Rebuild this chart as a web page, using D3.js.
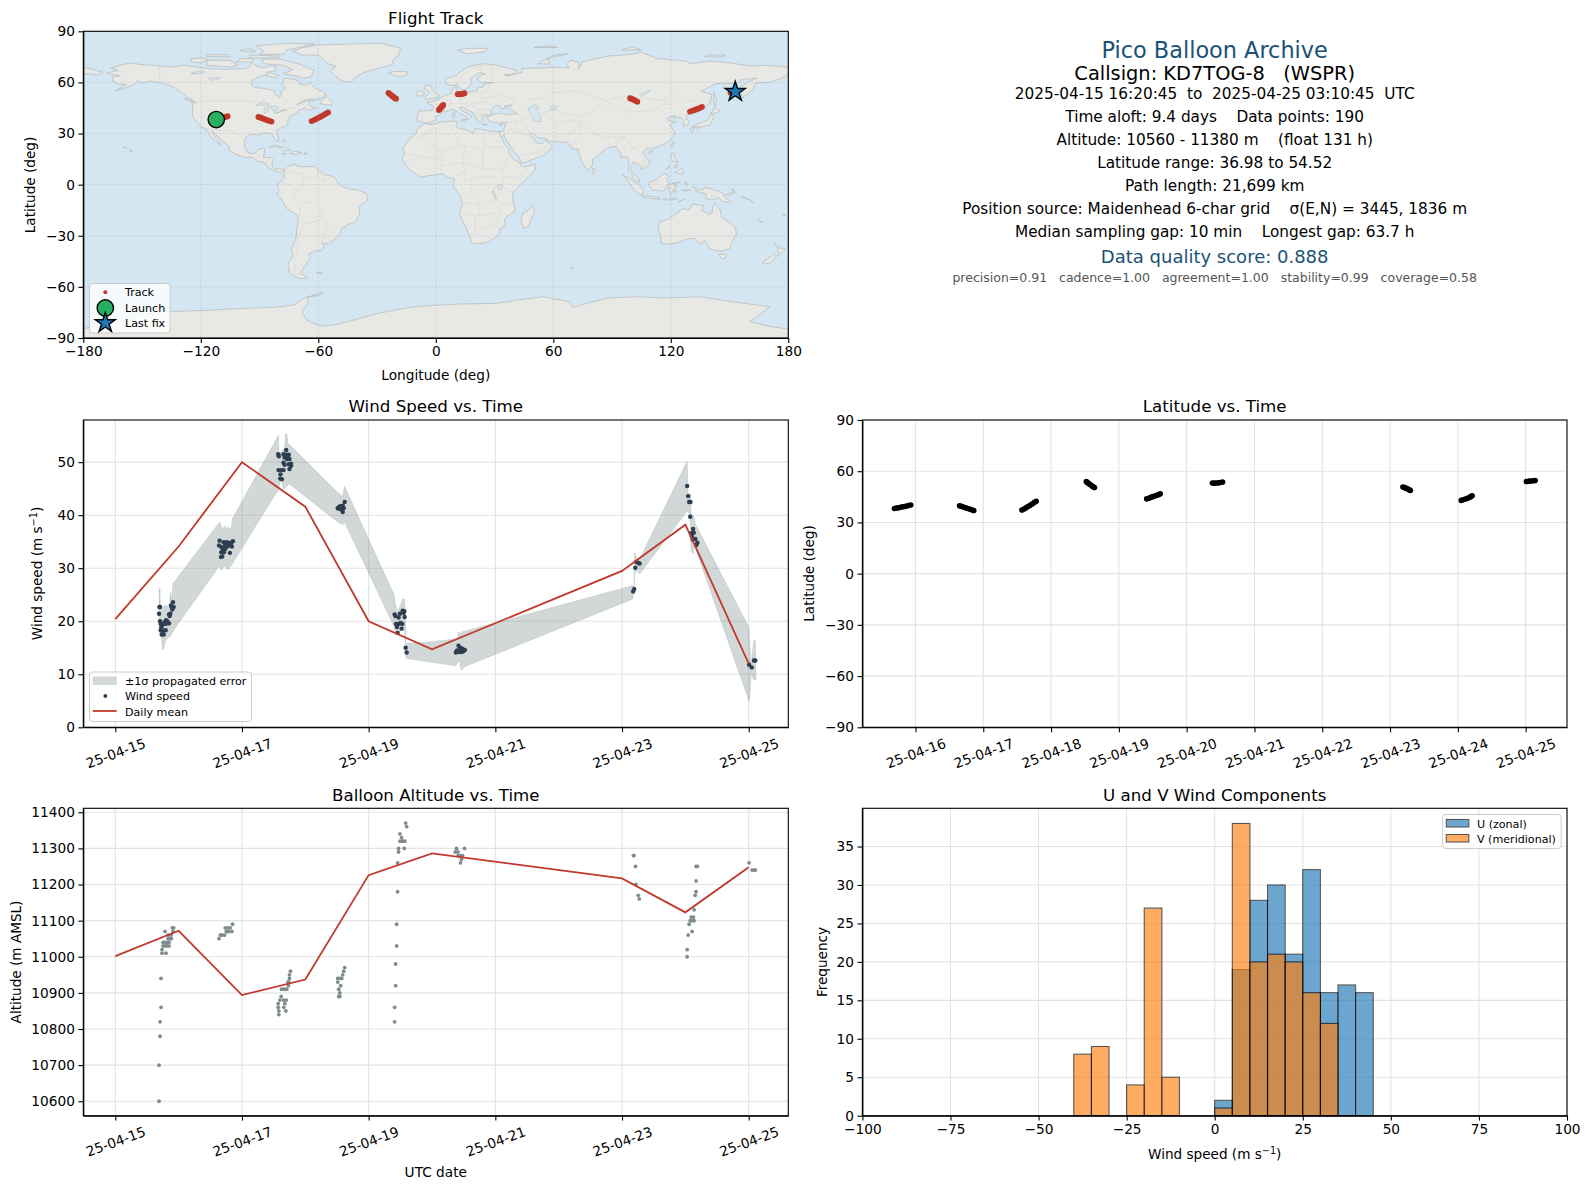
<!DOCTYPE html>
<html>
<head>
<meta charset="utf-8">
<title>Pico Balloon Archive</title>
<script src="https://cdnjs.cloudflare.com/ajax/libs/d3/7.8.5/d3.min.js"></script>
<style>
  body { margin: 0; background: #fff; }
  svg text { font-family: "DejaVu Sans", sans-serif; fill: #000; white-space: pre; }
  .tick line, .domain { stroke: #000; stroke-width: 1.1; }
  .tick text { font-size: 13.7px; }
  .grid line { stroke: #e3e3e3; stroke-width: 1.1; }
  .mapgrid line { stroke: #a9b4ba; stroke-width: 0.7; stroke-dasharray: 2 2; opacity: 0.6; }
</style>
</head>
<body>
<svg id="fig" width="1589" height="1189"></svg>
<script>
'use strict';

// flight track: days since 25-04-15 00:00, latitude, longitude
var trackDay = [0.69,0.72,0.75,0.78,0.81,0.84,0.87,0.90,0.93,
  1.65,1.68,1.71,1.74,1.77,1.80,1.83,1.86,
  2.57,2.60,2.63,2.66,2.69,2.72,2.75,2.78,
  3.52,3.54,3.56,3.58,3.60,3.62,3.64,
  4.41,4.44,4.47,4.50,4.53,4.56,4.59,4.61,
  5.38,5.41,5.44,5.47,5.50,5.53,
  8.19,8.21,8.23,8.25,8.28,8.30,
  9.05,9.08,9.11,9.14,9.17,9.19,9.21,
  10.01,10.05,10.08,10.11,10.14];
var trackLat = [38.2,38.4,38.6,38.9,39.1,39.3,39.6,39.9,40.2,
  39.7,39.4,39.0,38.6,38.2,37.8,37.4,37.0,
  37.3,37.9,38.6,39.3,40.0,40.8,41.6,42.4,
  53.9,53.3,52.7,52.1,51.5,50.9,50.4,
  43.8,44.2,44.7,45.1,45.5,45.9,46.3,46.8,
  53.1,53.0,53.1,53.2,53.4,53.7,
  50.7,50.4,50.1,49.8,49.2,48.7,
  42.9,43.3,43.7,44.1,44.6,45.1,45.6,
  54.0,54.2,54.3,54.4,54.52];
var trackLon = [-112.1,-111.4,-110.7,-110.0,-109.2,-108.5,-107.8,-107.0,-106.3,
  -90.6,-89.6,-88.7,-87.8,-86.9,-85.9,-84.9,-83.9,
  -63.4,-62.2,-61.0,-59.8,-58.6,-57.4,-56.2,-55.0,
  -24.2,-23.6,-22.9,-22.3,-21.6,-21.0,-20.3,
  1.6,1.9,2.2,2.5,2.8,3.1,3.5,3.8,
  11.2,11.9,12.5,13.2,13.9,14.6,
  99.2,99.9,100.6,101.2,102.0,102.9,
  129.8,130.8,131.8,132.8,133.9,134.9,135.9,
  150.5,151.0,151.6,152.2,152.9];

// wind speed samples [day, m/s]
var windPoints = [[0.696,22.7],[0.707,22.7],[0.691,21.4],[0.707,20.0],[0.717,19.5],[0.738,19.2],[0.728,18.8],[0.754,19.5],[0.780,19.8],[0.801,20.2],[0.822,20.0],[0.796,19.5],[0.848,19.6],[0.717,18.3],[0.754,18.2],[0.733,17.5],[0.764,17.5],[0.796,18.3],[0.848,21.3],[0.869,21.4],[0.859,21.0],[0.890,22.7],[0.922,22.7],[0.880,23.0],[0.911,23.6],[0.901,22.2],
  [1.647,35.2],[1.637,34.3],[1.673,34.0],[1.710,34.9],[1.752,34.9],[1.789,34.8],[1.831,34.8],[1.857,35.1],[1.841,34.1],[1.805,34.3],[1.768,34.1],[1.736,33.6],[1.700,33.5],[1.673,33.0],[1.715,33.0],[1.689,32.2],[1.668,32.1],[1.810,32.9],[1.752,34.4],[1.815,34.6],[1.730,34.2],
  [2.572,51.5],[2.582,51.1],[2.698,52.3],[2.656,51.5],[2.698,51.4],[2.739,51.4],[2.672,50.9],[2.708,50.6],[2.750,50.6],[2.656,49.9],[2.739,49.6],[2.776,49.3],[2.750,48.7],[2.672,49.5],[2.577,48.5],[2.619,48.5],[2.656,48.5],[2.608,47.7],[2.603,46.9],[2.630,46.8],[2.776,49.7],[2.680,51.0],[2.720,51.0],
  [3.622,42.5],[3.591,41.8],[3.564,41.5],[3.512,41.3],[3.538,41.2],[3.575,41.0],[3.591,40.6],[3.549,41.7],[3.606,41.3],[3.580,41.5],[3.530,41.5],
  [4.410,21.3],[4.421,21.0],[4.472,20.7],[4.494,21.4],[4.537,22.0],[4.553,21.6],[4.569,20.8],[4.431,19.5],[4.472,19.5],[4.504,19.7],[4.531,19.5],[4.447,18.9],[4.521,18.6],[4.457,17.8],[4.584,15.0],[4.600,14.1],[4.563,21.9],
  [5.377,14.1],[5.403,14.5],[5.419,15.4],[5.445,15.0],[5.482,14.8],[5.519,14.6],[5.471,14.2],[5.430,14.2],[5.498,14.4],[5.390,14.4],[5.460,14.6],
  [8.176,25.6],[8.193,26.1],[8.209,30.1],[8.224,31.2],[8.256,31.0],[8.277,30.9],
  [9.028,45.5],[9.044,43.6],[9.060,42.5],[9.081,42.5],[9.076,39.7],[9.122,37.4],[9.091,36.6],[9.133,36.7],[9.102,36.0],[9.159,35.5],[9.117,35.4],[9.190,34.8],[9.174,34.4],
  [10.006,11.8],[10.048,11.3],[10.084,12.6],[10.105,12.6]];

// +-1 sigma band edges [day, m/s]
var bandUpper = [[0.691,26.1],[0.707,26.1],[0.712,22.0],[0.754,22.7],[0.796,23.0],[0.848,22.7],[0.859,23.9],[0.869,25.5],[0.890,24.2],[0.911,27.1],[1.647,38.7],[1.668,38.3],[1.689,37.1],[1.710,37.7],[1.731,38.0],[1.752,37.4],[1.778,37.7],[1.805,37.6],[1.831,37.4],[1.847,39.3],[2.577,55.1],[2.582,51.8],[2.619,51.8],[2.672,52.7],[2.688,55.3],[2.708,55.3],[2.729,53.4],[2.771,53.1],[3.512,44.3],[3.591,43.5],[3.617,45.5],[4.405,24.9],[4.421,23.3],[4.457,21.7],[4.510,23.3],[4.537,24.2],[4.563,24.2],[4.579,22.0],[4.589,15.8],[4.957,16.1],[5.403,16.7],[5.419,18.0],[5.456,17.7],[5.482,18.0],[8.161,26.7],[8.188,26.7],[8.198,33.0],[8.224,32.1],[8.266,31.4],[9.028,50.2],[9.044,44.0],[9.081,44.0],[9.091,40.2],[9.133,39.9],[9.159,38.3],[10.0,18.9],[10.016,16.4],[10.037,11.4],[10.079,16.4],[10.105,16.4],[10.116,8.9]];
var bandLower = [[0.691,18.3],[0.728,17.0],[0.743,14.7],[0.764,14.7],[0.796,16.4],[0.833,17.0],[0.859,17.0],[0.938,18.6],[1.647,30.5],[1.673,29.6],[1.726,30.5],[1.778,29.7],[1.847,30.8],[2.577,44.9],[2.619,46.8],[2.655,44.9],[2.750,45.9],[3.512,38.7],[3.591,38.2],[3.617,38.7],[4.405,18.9],[4.431,17.4],[4.563,18.9],[4.589,13.0],[4.957,12.3],[5.377,11.6],[5.430,12.7],[5.456,10.9],[5.482,10.9],[5.508,11.4],[8.171,24.2],[8.203,28.9],[8.240,29.6],[8.277,28.9],[9.028,40.8],[9.070,40.2],[9.091,33.3],[9.122,32.7],[9.144,34.3],[10.0,5.1],[10.016,5.1],[10.037,10.1],[10.079,8.9],[10.116,8.9]];

// daily means
var meanDays = [0,1,2,3,4,5,8,9,10];
var meanWind = [20.4,34.1,50.0,41.6,20.0,14.7,29.5,38.2,12.0];
var meanAlt = [11002,11072,10894,10937,11226,11286,11217,11123,11248];

// altitude samples [day, m]
var altPoints = [[0.691,10600],[0.691,10700],[0.707,10780],[0.707,10820],[0.722,10860],[0.722,10940],[0.738,11010],[0.801,11010],[0.738,11020],[0.754,11030],[0.780,11030],[0.817,11030],[0.848,11030],[0.754,11040],[0.780,11040],[0.817,11040],[0.848,11040],[0.833,11050],[0.859,11050],[0.885,11050],[0.785,11070],[0.833,11060],[0.880,11060],[0.911,11070],[0.922,11080],[0.901,11080],
  [1.637,11050],[1.658,11060],[1.689,11060],[1.726,11060],[1.752,11070],[1.789,11070],[1.841,11070],[1.736,11080],[1.778,11080],[1.815,11080],[1.852,11090],[1.768,11070],[1.673,11060],
  [2.766,10960],[2.750,10950],[2.750,10940],[2.724,10930],[2.735,10920],[2.708,10910],[2.666,10910],[2.624,10910],[2.619,10890],[2.698,10880],[2.656,10880],[2.598,10880],[2.572,10870],[2.677,10870],[2.572,10860],[2.661,10860],[2.582,10850],[2.693,10850],[2.582,10840],[2.740,10930],
  [3.622,10970],[3.606,10960],[3.591,10950],[3.575,10940],[3.512,10940],[3.549,10940],[3.512,10930],[3.559,10920],[3.528,10910],[3.544,10900],[3.528,10890],[3.544,10890],
  [4.410,10820],[4.410,10860],[4.426,10920],[4.426,10980],[4.442,11030],[4.442,11090],[4.457,11180],[4.457,11260],[4.472,11290],[4.472,11300],[4.563,11300],[4.494,11320],[4.525,11320],[4.571,11320],[4.520,11330],[4.494,11340],[4.584,11370],[4.600,11360],[4.540,11320],
  [5.388,11300],[5.367,11290],[5.409,11290],[5.414,11280],[5.445,11280],[5.482,11280],[5.514,11300],[5.466,11270],[5.450,11260],
  [8.188,11280],[8.214,11250],[8.219,11200],[8.256,11170],[8.272,11160],[8.180,11280],
  [9.028,11020],[9.028,11000],[9.044,11060],[9.107,11070],[9.060,11090],[9.076,11100],[9.107,11100],[9.138,11100],[9.091,11110],[9.128,11110],[9.138,11130],[9.154,11170],[9.169,11180],[9.169,11210],[9.169,11250],[9.190,11250],
  [10.006,11260],[10.053,11240],[10.084,11240],[10.105,11240]];

// histogram bins
var binStarts = [-40,-35,-30,-25,-20,-15,-10,-5,0,5,10,15,20,25,30,35,40];
var uCounts = [0,0,0,0,0,0,0,0,2,19,28,30,21,32,16,17,16];
var vCounts = [8,9,0,4,27,5,0,0,1,38,20,21,20,16,12,0,0];

// tick labels
var wideTickDays = [0,2,4,6,8,10];
var wideTickLabels = ['25-04-15','25-04-17','25-04-19','25-04-21','25-04-23','25-04-25'];
var latTickDays = [1,2,3,4,5,6,7,8,9,10];
var latTickLabels = ['25-04-16','25-04-17','25-04-18','25-04-19','25-04-20','25-04-21','25-04-22','25-04-23','25-04-24','25-04-25'];

// summary text
var infoLines = [
  '2025-04-15 16:20:45  to  2025-04-25 03:10:45  UTC',
  'Time aloft: 9.4 days    Data points: 190',
  'Altitude: 10560 - 11380 m    (float 131 h)',
  'Latitude range: 36.98 to 54.52',
  'Path length: 21,699 km',
  'Position source: Maidenhead 6-char grid    \u03c3(E,N) = 3445, 1836 m',
  'Median sampling gap: 10 min    Longest gap: 63.7 h'
];

// land outlines, traced by eye as [lon, lat]
var landPolygons = [
  // north america
  [[-168,65.6],[-164,66.5],[-162,67],[-166,68.5],[-163,69.5],[-156.5,71.3],[-150,70.5],[-141,69.7],[-135,69],[-128,70],[-125,69.5],[-115,68],[-110,68],[-108,67.5],[-102,68],[-97,68],[-95,69.5],[-94,71.8],[-92,70],[-88,68.5],[-85,69.5],[-82,69.5],[-81.5,67],[-86,66],[-87,64.5],[-90,63.5],[-94,61],[-94.5,58.8],[-92.5,57],[-88,56.5],[-82.5,55.2],[-82,52.9],[-80,51.2],[-79,52],[-79,54.5],[-76.8,56.5],[-78.3,58.7],[-77.5,62.4],[-73,62],[-70,61],[-69.5,59],[-66,58.5],[-64.5,60.3],[-61.5,56.5],[-58,54.8],[-55.7,52.5],[-60,50.2],[-65,50.2],[-68,49],[-71,46.9],[-66,49.2],[-64.5,48.8],[-65,47],[-64,46],[-61,45.3],[-65,43.6],[-66.5,44.5],[-67,45],[-70,43.7],[-70.7,42],[-74,40.6],[-75.5,38],[-75.5,35.2],[-78,33.9],[-81,32],[-81.3,30],[-80,26.8],[-80.3,25.3],[-81.8,26],[-82.8,28],[-84,30],[-86,30.4],[-89.5,30.2],[-89.3,29.1],[-91,29.2],[-94,29.6],[-97,28],[-97.5,25],[-97.8,22.5],[-95.9,18.8],[-94.5,18.2],[-92,18.6],[-90.5,20.8],[-87.5,21.5],[-87.5,19.5],[-88,16],[-84,15.8],[-83.3,14.9],[-83.7,11],[-82,9],[-79.7,9.5],[-77.3,8.6],[-78.3,7.5],[-80,7.3],[-83,8.2],[-85.7,10],[-87.5,13],[-91.5,14],[-94,16.1],[-97,15.9],[-101.5,17.5],[-105.5,20],[-105.5,22.5],[-109,25.8],[-112.5,29.5],[-114.7,31.7],[-112.5,27.5],[-109.5,23.2],[-112,25],[-115,28.2],[-117.2,32.5],[-120.5,34.5],[-122.5,37.7],[-124.3,40.3],[-124,46],[-124.7,48.4],[-122.5,48],[-125,50.2],[-128,52],[-130.2,54.5],[-133.5,57],[-137,58.6],[-140,59.7],[-146,60.8],[-150,59.7],[-152,61],[-154,59],[-158,57],[-163.5,55],[-158,58.8],[-162,59],[-165,60.6],[-165,63.2],[-161,64],[-166.5,64.7]],
  // greenland
  [[-73,78.2],[-68,76],[-60,76],[-55,71],[-51,69.5],[-54,67],[-51,63.5],[-48,61],[-43.5,60],[-41,63],[-37,65.7],[-30,68],[-22,70.5],[-22,73],[-19,76],[-18,80],[-28,83],[-45,82.5],[-60,82],[-68,80.5]],
  // canadian arctic
  [[-80,73.7],[-72,71.5],[-68,70],[-62,67],[-64,63],[-68,62.5],[-72,64],[-78,65],[-73,67.5],[-78,70],[-88,71],[-89,73.5]],
  [[-117,70],[-105,69],[-101,70],[-105,73],[-117,73]],
  [[-90,76.5],[-78,76.5],[-76,79],[-62,82.5],[-75,83],[-92,81.5],[-88,78.5]],
  [[-125,72],[-120,71.5],[-116,73.5],[-120,74.3],[-125,74]],
  [[-95,74.5],[-80,74.5],[-80,75.5],[-95,76]],
  [[-117,75.2],[-105,75],[-106,76.3],[-117,76.2]],
  [[-102,72],[-94,72],[-93,74],[-100,73.9]],
  [[-98,78],[-92,78],[-94,79.5],[-100,79]],
  [[-87,64],[-82,62.8],[-80,64],[-85,65.8]],
  [[-59,47.7],[-56,46.8],[-53,46.8],[-53,48.7],[-55.8,51.5],[-57.5,50.5]],
  [[-128.3,50.5],[-125.5,50],[-123.4,48.4],[-125.5,48.8]],
  [[-64.5,49.9],[-62,49.2],[-63.5,49.2]],
  // caribbean, hawaii
  [[-85,22],[-82,23.1],[-77,21.8],[-74.2,20.2],[-77.7,19.9],[-78.5,21.2],[-82,22.3]],
  [[-74.4,18.5],[-72.8,19.9],[-68.4,18.6],[-71.5,17.8]],
  [[-78.3,18.4],[-76.3,18.2],[-77,17.8]],
  [[-67.2,18.5],[-65.7,18.4],[-66,18],[-67.2,18]],
  [[-78.3,25.2],[-77.5,26.8],[-77.2,25.5]],
  [[-156.2,20.8],[-155,19.8],[-155.7,19]],
  [[-159.7,22.2],[-157.8,21.6],[-158.2,21.3]],
  // south america
  [[-77.3,8.6],[-75.5,10.7],[-72,12],[-71,11],[-68,10.5],[-62,10.7],[-60,8.5],[-57,6],[-52,4.7],[-50,1],[-48,-1],[-44,-2.7],[-40,-3],[-35.2,-5.5],[-35,-9],[-39,-13],[-39,-17.5],[-41,-22],[-44.5,-23.2],[-48.5,-26],[-48.7,-28.5],[-53,-33.5],[-55,-35],[-58.2,-34],[-57,-36.5],[-58,-38.4],[-62,-39],[-65,-41],[-63.7,-42.7],[-65.5,-45],[-66,-47],[-69,-51],[-68.3,-52.5],[-65.3,-54.8],[-69,-55.2],[-72,-54],[-74.8,-51.5],[-75.5,-46.7],[-73,-42],[-73.6,-37.5],[-71.5,-32],[-71,-27],[-70.2,-20],[-71.5,-17.3],[-76,-14],[-79,-8],[-81.2,-5.5],[-80,-3],[-81,-1],[-80,1],[-78.8,2],[-77.5,4],[-77.5,7]],
  [[-61,-51.8],[-58,-51.4],[-58.5,-52.3]],
  // africa
  [[-5.9,35.8],[-2,35.2],[3,36.9],[10,37.3],[11,36.8],[10.2,34.2],[11.2,33.2],[15.2,32.3],[19,30.3],[20,32.8],[23,32.6],[29,31],[32.3,31.2],[32.6,29.9],[35,24],[37.2,21],[37.5,18.5],[39.5,15.2],[43.2,12.3],[43.3,11.5],[45,10.5],[51.2,11.9],[50.8,9],[47,4],[42,-1.5],[39.3,-5],[39.5,-10],[40.7,-15],[35,-20],[35.5,-24],[32.8,-26],[32.5,-29],[28,-33],[25.5,-34],[20,-34.8],[18.4,-34],[17,-29.5],[14.5,-23],[11.8,-17],[13.8,-11],[12.2,-6],[9,-1],[9.6,3.5],[6,4.3],[4,6.3],[-4,5.2],[-7.5,4.4],[-11.5,7],[-15,11],[-17.3,14.7],[-16,19],[-17,21],[-13,27.7],[-10,30],[-9.3,33]],
  [[49.3,-12],[50.5,-15.5],[47.2,-24.8],[45,-25.5],[43.4,-22],[44.3,-17],[47,-15.3]],
  // eurasia
  [[-9,37],[-9.5,38.7],[-8.8,43.3],[-2,43.4],[-1.2,46],[-4.7,48.4],[-1.6,48.7],[1.5,50.2],[4,52],[8,53.8],[8.2,56],[10.5,57.6],[10.3,55],[12,54.2],[14,54],[19,54.5],[21,55.2],[21.5,57.3],[24,57.1],[24.4,59],[30,60],[23,60],[21.3,61],[21.5,63],[25,65],[22,65.7],[17.5,62],[18.5,60],[16.5,57],[14.3,55.5],[12.7,56],[11,59],[8,58],[5.5,59],[5,62],[10,64],[14,67.5],[18,69.8],[25,71],[31,70],[41,67.2],[40,65],[35,64.5],[37,63.8],[44,66],[44,68.2],[54,68.5],[60,69],[68,68.5],[67,71],[69,73],[72.8,72],[73,68],[75,72],[80,73.5],[88,75.5],[100,76.5],[105,77.7],[113,74],[128,72.5],[130,71],[140,72.5],[150,71.5],[160,69.7],[170,70],[180,69],[180,65],[177,62.5],[170,60],[163.5,59.8],[162,56],[156.7,51],[155.5,57],[160,60.5],[164,62.5],[156,61.6],[154,59.5],[143,59.3],[135.3,54.7],[141,53],[140,48],[135,43.5],[130.5,42.5],[127.5,39.8],[129.4,37],[129,35.2],[126.4,34.5],[126.6,37.5],[125,39.7],[121.3,39],[122,40.7],[118,39],[119,37.3],[122.5,37],[119.3,35],[122,31],[121.5,28.5],[118,24.5],[113.5,22.2],[110,21],[108,21.6],[105.8,19],[109,13.5],[109,11.5],[105,8.7],[105,10.4],[102.5,12.3],[100.9,13.4],[99.2,10],[100.5,7],[103.4,4],[104.2,1.4],[101.2,2.9],[100.2,6],[98.3,8],[98.6,13],[97.6,16.5],[94.5,16],[94.3,18.5],[91.8,22.4],[89,21.8],[87,21.3],[82.3,16.7],[80.2,15],[80,11.5],[77.5,8],[75,12.5],[72.8,19],[72.6,21.2],[70,20.8],[69,22.5],[67,24.8],[61.5,25.2],[57.3,25.6],[56.5,27],[52,27.7],[50,30],[48,30],[48.7,28.5],[50.2,26.5],[51.4,24.5],[54,24],[56.3,26],[58.7,23.5],[59.7,22.3],[55.5,17.5],[52,16],[45,12.8],[43.3,12.8],[42.7,15.5],[39,21],[35,28],[34.9,29.5],[33.3,28],[32.6,29.9],[32.3,31.2],[34.3,31.2],[35.9,36],[36,36.9],[32,36.1],[30.5,36.5],[27.3,37],[26.2,39.5],[29,41],[32,42],[36,41.3],[41.5,41.6],[38,44.3],[37.5,45.3],[39,47],[35,46],[36.5,45.2],[33.5,44.5],[33,46],[30.7,46.5],[28,43.5],[28.9,41.3],[26.3,40.7],[23.5,40.3],[24,38],[22.8,36.5],[21.3,37.5],[19.5,41],[19,42.2],[15,44.5],[13.7,45.6],[12.3,45.3],[12.5,44],[16,41.7],[18.4,40],[17,39],[15.7,38],[15.7,40],[12.5,41.5],[10.3,43.5],[8.8,44.4],[6,43.1],[3,43.2],[3.2,41.8],[0,39.8],[-0.4,38],[-2,36.8],[-5.3,36.1],[-6.3,36.6]],
  [[-180,69],[-175,67.5],[-170,66],[-173,64.3],[-177,65],[-180,65]],
  // european islands
  [[-5.5,50],[1.3,51.2],[1.6,52.8],[-0.3,53.8],[-2,56],[-2,57.6],[-5,58.6],[-6,56.5],[-3,54],[-5,52]],
  [[-10,52],[-6,52.2],[-6,54.5],[-8.5,55.2],[-10,54]],
  [[-24,65.5],[-21,64],[-18,63.4],[-14,64.5],[-15,66.3],[-22,66.4]],
  [[12.5,38],[15.5,38.2],[15,36.7]],
  [[8.3,41],[9.7,41],[9.5,39],[8.5,39]],
  [[8.7,42.5],[9.5,43],[9.3,41.5]],
  [[23.6,35.5],[26.2,35.2],[24.5,35]],
  [[32.4,35],[34.5,35.6],[33.8,34.8]],
  [[11,79],[16,76.7],[25,78],[27,80],[17,80]],
  [[52,71],[58,70.7],[57,74],[68,77],[60,76]],
  [[95,79],[105,79],[100,81]],
  [[137,75],[146,75],[148,76],[139,76]],
  [[50,80.5],[62,80.5],[58,81.5]],
  // east asia islands
  [[142,54],[143.5,49],[142.5,46],[142,49]],
  [[130.9,34],[135,33.6],[140,35],[141.9,39.5],[141.3,41.3],[140,40.5],[139,38],[136.8,37],[133,35.5]],
  [[140.2,41.5],[143,42],[145.3,43.4],[142,45.5],[141.5,43.2]],
  [[130,33.2],[131.8,33.5],[131,31],[130.2,31.2]],
  [[132.5,34],[134.5,34.2],[134,33.3],[132.7,33]],
  [[120.3,23],[121.5,25.2],[121.9,24.8],[120.9,22]],
  [[109,19.5],[110.8,20],[110,18.3],[108.8,18.6]],
  [[79.8,8],[80.5,9.7],[81.8,7.5],[80.5,6]],
  [[120.3,16],[120.8,18.5],[122.2,18.4],[122,16],[124,13],[121,13.7]],
  [[122,7],[125.5,9.7],[126.5,7.5],[125.5,5.8],[124,6.8]],
  [[122,11.5],[123.5,11.5],[123,10],[122,10]],
  [[117.5,9],[119.5,11.3],[119,10]],
  // indonesia, new guinea
  [[109,1.5],[111.5,2.5],[113.5,3.5],[116.8,7],[119,5],[117.7,3],[119,1],[116.5,-3.8],[114,-3.5],[110.3,-3],[109,-0.3]],
  [[95.3,5.6],[98,4.2],[103.5,0],[106,-3],[105.8,-5.8],[104.3,-5.8],[101,-2.8],[98.6,1.7]],
  [[105.2,-6.8],[108.5,-6.6],[114.5,-7.8],[114.3,-8.7],[108,-7.9]],
  [[119.8,0.7],[125,1.5],[121,0.4],[123.3,-0.9],[121.8,-1.8],[122.8,-4.7],[121.2,-3],[120.4,-5.5],[119.4,-5.3],[119,-2.7]],
  [[127.5,2],[128.5,1],[128,-0.8],[127.5,0.5]],
  [[126,-3.2],[130,-3],[128,-3.8]],
  [[131,-0.8],[135,-3.3],[138,-1.7],[144.5,-3.8],[147.8,-6],[147,-6.8],[150.8,-10.3],[147,-10],[144,-7.7],[141,-9],[138,-8.3],[138,-5.5],[133,-4],[132.8,-2.8]],
  [[148.5,-5.6],[152,-4.2],[152,-5.5],[149,-6.3]],
  [[150.8,-2.7],[153,-4.5],[152,-3.2]],
  [[156,-6.8],[158,-7.8],[159.5,-8.6],[157,-7.9]],
  [[159.8,-8.3],[162.2,-10.7],[161,-9.8]],
  [[119,-8.4],[123,-8.2],[122,-8.9],[119,-8.9]],
  [[116,-8.4],[117,-8.3],[118,-8.8],[116,-9]],
  [[123.8,-10.2],[127,-8.4],[125,-9.6]],
  // australasia
  [[114,-22],[113.5,-26],[115,-31],[115,-34.3],[118,-35],[123.5,-34],[129,-31.7],[131.5,-31.5],[135,-34.7],[137.8,-33],[138.5,-35],[140,-37.7],[143.5,-38.8],[146.4,-39],[150,-37.5],[151.2,-34],[153.5,-28.5],[153,-25],[149.5,-22],[146,-19],[145.3,-15],[142.6,-10.8],[141.5,-13],[141,-16.5],[139.5,-17.5],[135.7,-15],[136.7,-12.2],[131,-11.5],[129.5,-15],[126,-14],[122.3,-17.5],[119,-20]],
  [[144.7,-40.8],[148.3,-41],[148,-43],[146,-43.6],[145.3,-42.5]],
  [[172.7,-34.5],[175.5,-37],[178.4,-37.7],[177,-39.5],[175.3,-41.6],[174.8,-39],[174.7,-37.5]],
  [[172.7,-40.5],[174.3,-41.7],[172.8,-43.7],[170.7,-45.9],[168.4,-46.6],[166.5,-45.9],[169.5,-43.6],[171.5,-41.8]],
  [[164,-20],[167,-22.4],[166,-22]],
  [[177.3,-17.5],[178.6,-18],[177.4,-18.2]],
  [[68.8,-48.8],[70.5,-49],[69.5,-49.7]],
  // antarctica
  [[-180,-84.5],[-155,-79],[-150,-76],[-135.7,-74.5],[-118,-73.8],[-101,-72.8],[-82.6,-72],[-72,-70.5],[-68,-67],[-62,-64.8],[-57.5,-63.4],[-60,-65],[-65.9,-65.8],[-65,-69],[-68.5,-74.6],[-65.9,-79.5],[-59.1,-83],[-52.3,-82.4],[-42,-79.5],[-30,-75.6],[-13,-72],[-3,-71],[12.6,-70],[31,-69.7],[43,-67.5],[55,-65.8],[68.5,-68.8],[70,-72],[77,-69.7],[88,-66.5],[102,-65.8],[118,-66.5],[134.9,-65.8],[150,-68.5],[170.6,-71.6],[165,-76.5],[160.4,-80.4],[170,-83],[180,-84.9],[180,-90],[-180,-90]]
];

// inland water painted over the land
var lakePolygons = [
  [[47,45],[51,47],[53,45],[51,44.5],[53,41],[54,37],[50,37.3],[49.5,40.5],[47.5,43]],
  [[58.5,46],[61.5,46.5],[61,44],[58.5,44]],
  [[-92,46.7],[-88,48.5],[-85,47.5],[-85,46.5],[-88,46.5]],
  [[-87.8,42],[-86.3,42.5],[-85.2,45.5],[-87.5,45]],
  [[-84.5,45.8],[-81,46],[-80,44.6],[-82,43.2],[-83.5,44]],
  [[-83,41.7],[-79,42.8],[-80,42.6],[-82.7,42]],
  [[-79.5,43.3],[-76.3,43.4],[-76.5,44.1],[-79,43.8]],
  [[-125,65.5],[-119,67],[-118,65.5],[-123,65]],
  [[-116,62.5],[-110,62.7],[-114,61]],
  [[31.8,0],[34,-0.5],[33.5,-2.8],[32,-2.5]],
  [[29,-3.5],[30,-5],[31,-8.5],[30.5,-8],[29.5,-6]],
  [[103.8,53],[109,55.5],[109.5,55],[105,51.7]]
];

// country borders, traced by eye as [lon, lat]
var borderLines = [
  [[-124,49],[-95,49],[-89,48],[-84.5,46.5],[-82.5,42.5],[-79,43],[-75,45],[-71,45],[-69,47.3],[-67.5,47],[-67,45]],
  [[-141,69.7],[-141,60],[-135,59]],
  [[-117.2,32.5],[-108,31.5],[-106.5,31.8],[-101,29.7],[-97.2,26]],
  [[-92,14.5],[-91,17.5],[-89,18],[-88.2,18.3]],[[-89,14],[-88,16]],[[-87,13],[-84,15.5]],[[-85.7,11],[-83.7,11]],[[-83,8.5],[-82.5,9.5]],
  [[-77.3,8],[-72.5,7],[-72,12]],[[-72.5,7],[-67,6],[-67.5,2],[-70,-4]],[[-60,8.5],[-60.5,5],[-64,4],[-67.5,2]],[[-57,6],[-58,2],[-52,4.7]],
  [[-79,1.5],[-75,0],[-70,-4],[-73,-7],[-70,-11],[-69,-16],[-69.5,-17.5],[-70.2,-19]],[[-81,-4],[-78.5,-5],[-75,0]],
  [[-70,-11],[-65,-10],[-60,-13.5],[-58,-17],[-58,-20]],[[-69.5,-17.5],[-67.5,-23],[-62,-22],[-58,-20],[-54.5,-25.5]],[[-67.5,-23],[-70,-30],[-72,-45],[-72,-52],[-68.5,-53]],
  [[-54.5,-25.5],[-57.5,-30],[-53.5,-33.5]],[[-58,-34],[-57.7,-30]],
  [[-8.7,27.3],[-2,32],[-1.5,35]],[[-13,27.7],[-8.7,27.3],[-5,25],[3,19],[12,23.5],[9.5,30],[8,33],[8.5,37]],[[12,23.5],[15,23],[24,20],[25,31.5]],[[24,20],[25,22],[36.8,22]],
  [[-16,19],[-5,16],[3,15],[4,19]],[[-5,16],[-12,15],[-16.5,13.5]],[[3,15],[3,11],[2.7,6.3]],[[3,11],[14,13],[15,8],[9.5,4.5]],[[15,23],[14,13],[24,9],[24,20]],
  [[24,9],[34,9.5],[36.5,14.5],[38.5,18]],[[34,9.5],[35,5],[42,4],[47.5,8],[43,11.5]],[[35,5],[34,0],[34,-1],[39.5,-4.7]],[[34,-1],[30,-1],[29.5,-6],[30,-8.5],[34,-11.5],[40.5,-10.7]],
  [[15,8],[14.5,2],[18,3.5],[18.5,-3.5],[12.5,-6]],[[18,3.5],[27,5],[34,4]],[[18.5,-3.5],[20,-7],[22,-11],[13.7,-11]],[[22,-11],[24,-13],[30,-8.5]],[[22,-11],[22,-18],[11.8,-17.3]],[[22,-18],[25,-18],[33,-16],[30.5,-22.5],[32.8,-26]],[[20,-18],[20,-29],[16.5,-28.6]],[[20,-25],[25,-25.5],[30.5,-22.5]],
  [[-1.8,43.4],[3,42.5]],[[-9,42],[-6.5,42],[-7,37.2]],[[2.5,51],[6,49.5],[8,49],[7.5,47.6],[6.8,46],[7.5,43.8]],[[6.5,53.3],[6,51],[6,49.5]],[[8.7,54.9],[9.5,54.8]],[[14,54],[15,51],[12.3,50.3],[13,47.5],[9.5,47.5],[7.5,47.6]],[[13,47.5],[17,48],[22.5,48.2],[24,50.5],[23.5,54],[19,54.4]],[[13.7,45.6],[16.5,46.5],[19,46],[22.5,48.2]],[[22.5,48.2],[26.5,48.2],[29.5,45.3]],[[19,46],[22.8,44],[28.5,43.7]],[[22.8,44],[22.7,41.3],[26.3,41.7],[26.3,40.7]],[[19.4,42],[21,42],[22.7,41.3]],[[20,39.8],[26.3,41.3]],
  [[23.5,54],[27,55.5],[28,59.5]],[[24,50.5],[32,52],[34,52.3],[40,49.7],[38.2,47.2]],[[28,60],[29,63],[29,69]],[[12,61],[14,65],[20,69],[28,70]],[[20,69],[24,66]],
  [[36,36.5],[42,37],[44.5,37.5],[44.5,39.5],[41.5,41.6]],[[44.5,39.5],[48,39],[49,38.4]],[[44.5,37.5],[46,35],[48,30]],[[42,37],[41,34],[39,32],[36.8,32.3],[34.9,29.5]],[[39,32],[47,29],[48,29.5]],[[47,29],[51,24.8]],[[52,19],[55,20],[56.5,24.5]],[[43,17],[52,19],[53,16.5]],
  [[48,39],[48.5,42],[47,45]],[[53,42],[56,41.3],[61,36],[66,37.3],[74,37],[71,34],[70,30],[61,29.5],[61.5,25.2]],[[61,36],[61,30],[61.5,25.2]],[[53,42],[61,44],[66,41],[70,41],[74,40],[80,42],[80,45],[85,47],[87,49]],[[47,50],[55,51],[61,54],[70,55],[77,53.5],[87,49]],[[87,49],[98,42.5],[111,43.5],[116,47.5],[120,47],[116,49.8],[106,50.3],[98,52],[87,49.5]],[[116,49.8],[120,53.5],[127,50],[135,48.4],[131,44],[130.5,42.5]],
  [[74,37],[78,33],[79,31],[81,30],[88,28],[92,28],[97,28],[98.5,25],[101,21.5],[105,23],[108,21.6]],[[74,37],[74,32],[70.5,24],[69,23.5]],[[81,30],[88,26.5],[89,22]],[[92,22.7],[92,25],[97,28]],[[98.5,25],[94.5,20]],[[101,21.5],[100,20],[98,17],[99.5,11]],[[101,21.5],[105,18],[107,15],[106,11]],[[102.5,12.5],[107,14.5]],
  [[124.5,40],[130.5,42.5]],[[126.5,38],[128.5,38.5]],
  [[117,4.3],[115,2],[110,1.2]],[[141,-2.6],[141,-9]]
];

var mapBox = { left: 83.3, right: 788.3, top: 31.3, bottom: 338 };
var windBox = { left: 83.3, right: 788.3, top: 420, bottom: 727.3 };
var latBox = { left: 862.4, right: 1567, top: 420, bottom: 727.3 };
var altBox = { left: 83.3, right: 788.3, top: 808.3, bottom: 1115.7 };
var histBox = { left: 862.4, right: 1567, top: 808.3, bottom: 1115.7 };

var red = '#c0392b';
var navy = '#1a5276';
var svg = d3.select('#fig');

function addText(str, x, y, size, anchor, color) {
  return svg.append('text').text(str)
    .attr('x', x).attr('y', y)
    .attr('text-anchor', anchor || 'middle')
    .style('font-size', size + 'px')
    .style('fill', color || '#000');
}

function addYLabel(x, cy, str, sup, tail) {
  var t = svg.append('text')
    .attr('transform', 'translate(' + x + ',' + cy + ') rotate(-90)')
    .attr('text-anchor', 'middle')
    .style('font-size', '13.6px');
  t.append('tspan').text(str);
  if (sup) {
    t.append('tspan').text(sup).attr('dy', -5).style('font-size', '9.7px');
    t.append('tspan').text(tail).attr('dy', 5);
  }
}

function panelScales(box, xDomain, yDomain) {
  return {
    x: d3.scaleLinear().domain(xDomain).range([box.left, box.right]),
    y: d3.scaleLinear().domain(yDomain).range([box.bottom, box.top])
  };
}

function addGrid(box, x, y, xTicks, yTicks, cls) {
  var g = svg.append('g').attr('class', cls || 'grid');
  g.selectAll('.v').data(xTicks).enter().append('line').attr('class', 'v')
    .attr('x1', function(d){ return x(d); }).attr('x2', function(d){ return x(d); })
    .attr('y1', box.top).attr('y2', box.bottom);
  g.selectAll('.h').data(yTicks).enter().append('line').attr('class', 'h')
    .attr('y1', function(d){ return y(d); }).attr('y2', function(d){ return y(d); })
    .attr('x1', box.left).attr('x2', box.right);
}

// frame and axes go on last, over the marks
function addAxes(box, x, y, xTicks, yTicks, xFormat, yFormat, rotated) {
  var bottom = svg.append('g')
    .attr('transform', 'translate(0,' + box.bottom + ')')
    .call(d3.axisBottom(x).tickValues(xTicks).tickFormat(xFormat).tickSizeInner(4.9).tickSizeOuter(0).tickPadding(3.5));
  var left = svg.append('g')
    .attr('transform', 'translate(' + box.left + ',0)')
    .call(d3.axisLeft(y).tickValues(yTicks).tickFormat(yFormat).tickSizeInner(4.9).tickSizeOuter(0).tickPadding(3.5));
  svg.append('rect')
    .attr('x', box.left).attr('y', box.top)
    .attr('width', box.right - box.left).attr('height', box.bottom - box.top)
    .attr('fill', 'none').attr('stroke', '#000').attr('stroke-width', 1.1);
  if (rotated) {
    bottom.selectAll('.tick text')
      .attr('y', 26).attr('dy', '0.35em')
      .attr('transform', 'rotate(-20,0,26)');
  }
  bottom.selectAll('.tick text').style('font-family', '"DejaVu Sans"');
  left.selectAll('.tick text').style('font-family', '"DejaVu Sans"');
}

function addLegendBox(x, y, w, h) {
  svg.append('rect').attr('x', x).attr('y', y).attr('width', w).attr('height', h)
    .attr('rx', 3).attr('fill', '#fff').attr('fill-opacity', 0.8)
    .attr('stroke', '#ccc').attr('stroke-width', 1);
}

function clipFor(id, box) {
  svg.append('clipPath').attr('id', id).append('rect')
    .attr('x', box.left).attr('y', box.top)
    .attr('width', box.right - box.left).attr('height', box.bottom - box.top);
}

// ---- flight track map
var lonTicks = [-180,-120,-60,0,60,120,180];
var latTicks = [-90,-60,-30,0,30,60,90];
var mapS = panelScales(mapBox, [-180,180], [-90,90]);
var fmtInt = d3.format('d');
clipFor('mapclip', mapBox);

var coast = d3.line().x(function(d){ return mapS.x(d[0]); }).y(function(d){ return mapS.y(d[1]); });

var mapG = svg.append('g').attr('clip-path', 'url(#mapclip)');
mapG.append('rect')
  .attr('x', mapBox.left).attr('y', mapBox.top)
  .attr('width', mapBox.right - mapBox.left).attr('height', mapBox.bottom - mapBox.top)
  .attr('fill', '#d4e6f1');
mapG.selectAll('.land').data(landPolygons).enter().append('path').attr('class', 'land')
  .attr('d', function(d){ return coast(d) + 'Z'; })
  .attr('fill', '#e8e8e4').attr('stroke', '#b8bec2').attr('stroke-width', 0.8).attr('stroke-linejoin', 'round');
mapG.selectAll('.border').data(borderLines).enter().append('path').attr('class', 'border')
  .attr('d', coast)
  .attr('fill', 'none').attr('stroke', '#dadad6').attr('stroke-width', 0.7);
mapG.selectAll('.lake').data(lakePolygons).enter().append('path').attr('class', 'lake')
  .attr('d', function(d){ return coast(d) + 'Z'; })
  .attr('fill', '#d4e6f1').attr('stroke', '#b8bec2').attr('stroke-width', 0.6);
addGrid(mapBox, mapS.x, mapS.y, lonTicks, latTicks, 'mapgrid');

mapG.selectAll('.track').data(trackDay).enter().append('circle').attr('class', 'track')
  .attr('cx', function(d, i){ return mapS.x(trackLon[i]); })
  .attr('cy', function(d, i){ return mapS.y(trackLat[i]); })
  .attr('r', 2.9).attr('fill', red);

var launchMark = d3.symbol().type(d3.symbolCircle).size(210);
var lastMark = d3.symbol().type(d3.symbolStar).size(124);
var lastIdx = trackDay.length - 1;
mapG.append('path').attr('d', launchMark)
  .attr('transform', 'translate(' + mapS.x(trackLon[0]) + ',' + mapS.y(trackLat[0]) + ')')
  .attr('fill', '#27ae60').attr('stroke', '#000').attr('stroke-width', 1.4);
mapG.append('path').attr('d', lastMark)
  .attr('transform', 'translate(' + mapS.x(trackLon[lastIdx]) + ',' + mapS.y(trackLat[lastIdx]) + ')')
  .attr('fill', '#1f77b4').attr('stroke', '#000').attr('stroke-width', 1.4);

addAxes(mapBox, mapS.x, mapS.y, lonTicks, latTicks, fmtInt, fmtInt, false);
addText('Flight Track', 435.8, 24, 16.67);
addText('Longitude (deg)', 435.8, 380, 13.7);
addYLabel(35, 185, 'Latitude (deg)');

addLegendBox(89.5, 283.5, 80.5, 49.5);
svg.append('circle').attr('cx', 105.3).attr('cy', 292.3).attr('r', 2).attr('fill', red);
svg.append('path').attr('d', launchMark).attr('transform', 'translate(105.3,308)')
  .attr('fill', '#27ae60').attr('stroke', '#000').attr('stroke-width', 1.4);
svg.append('path').attr('d', lastMark).attr('transform', 'translate(105.3,323)')
  .attr('fill', '#1f77b4').attr('stroke', '#000').attr('stroke-width', 1.4);
addText('Track', 125, 296, 11.1, 'start');
addText('Launch', 125, 312, 11.1, 'start');
addText('Last fix', 125, 327, 11.1, 'start');

// ---- summary block
addText('Pico Balloon Archive', 1214.7, 58, 22.4, 'middle', navy);
addText('Callsign: KD7TOG-8   (WSPR)', 1214.7, 79.5, 19.4);
infoLines.forEach(function(line, i) {
  addText(line, 1214.7, 99 + i * 23, 15.3);
});
addText('Data quality score: 0.888', 1214.7, 263, 18, 'middle', navy);
addText('precision=0.91   cadence=1.00   agreement=1.00   stability=0.99   coverage=0.58', 1214.7, 282, 12.5, 'middle', '#555');

// ---- wind speed
var windS = panelScales(windBox, [-0.505,10.625], [0,57.95]);
var windTickY = [0,10,20,30,40,50];
var wideFormat = function(d){ return wideTickLabels[wideTickDays.indexOf(d)]; };
addGrid(windBox, windS.x, windS.y, wideTickDays, windTickY);

var windLine = d3.line().x(function(d){ return windS.x(d[0]); }).y(function(d){ return windS.y(d[1]); });
svg.append('path')
  .attr('d', windLine(bandUpper.concat(bandLower.slice().reverse())) + 'Z')
  .attr('fill', '#7f8c8d').attr('fill-opacity', 0.35)
  .attr('stroke', '#7f8c8d').attr('stroke-opacity', 0.2).attr('stroke-width', 1);
svg.selectAll('.wind').data(windPoints).enter().append('circle').attr('class', 'wind')
  .attr('cx', function(d){ return windS.x(d[0]); })
  .attr('cy', function(d){ return windS.y(d[1]); })
  .attr('r', 2.2).attr('fill', '#2c3e50');
svg.append('path')
  .attr('d', windLine(meanDays.map(function(d, i){ return [d, meanWind[i]]; })))
  .attr('fill', 'none').attr('stroke', red).attr('stroke-width', 1.8);

addAxes(windBox, windS.x, windS.y, wideTickDays, windTickY, wideFormat, fmtInt, true);
addText('Wind Speed vs. Time', 435.8, 411.7, 16.67);
addYLabel(42, 573.5, 'Wind speed (m s', '\u22121', ')');

addLegendBox(89.5, 672, 162, 49.5);
svg.append('rect').attr('x', 92.7).attr('y', 676.5).attr('width', 24).attr('height', 8.5)
  .attr('fill', '#7f8c8d').attr('fill-opacity', 0.35);
svg.append('circle').attr('cx', 105.3).attr('cy', 696).attr('r', 1.9).attr('fill', '#2c3e50');
svg.append('line').attr('x1', 92.7).attr('x2', 116.7).attr('y1', 711).attr('y2', 711)
  .attr('stroke', red).attr('stroke-width', 1.8);
addText('\u00b11\u03c3 propagated error', 125, 685, 11.1, 'start');
addText('Wind speed', 125, 700, 11.1, 'start');
addText('Daily mean', 125, 716, 11.1, 'start');

// ---- latitude
var latS = panelScales(latBox, [0.217,10.61], [-90,90]);
var latFormat = function(d){ return latTickLabels[latTickDays.indexOf(d)]; };
addGrid(latBox, latS.x, latS.y, latTickDays, latTicks);
svg.selectAll('.latpt').data(trackDay).enter().append('circle').attr('class', 'latpt')
  .attr('cx', function(d){ return latS.x(d); })
  .attr('cy', function(d, i){ return latS.y(trackLat[i]); })
  .attr('r', 2.8).attr('fill', '#000');
addAxes(latBox, latS.x, latS.y, latTickDays, latTicks, latFormat, fmtInt, true);
addText('Latitude vs. Time', 1214.7, 411.7, 16.67);
addYLabel(814, 573.5, 'Latitude (deg)');

// ---- altitude
var altS = panelScales(altBox, [-0.505,10.625], [10560,11411]);
var altTickY = [10600,10700,10800,10900,11000,11100,11200,11300,11400];
addGrid(altBox, altS.x, altS.y, wideTickDays, altTickY);
svg.selectAll('.altpt').data(altPoints).enter().append('circle').attr('class', 'altpt')
  .attr('cx', function(d){ return altS.x(d[0]); })
  .attr('cy', function(d){ return altS.y(d[1]); })
  .attr('r', 1.9).attr('fill', '#7f8c8d');
var altLine = d3.line().x(function(d){ return altS.x(d[0]); }).y(function(d){ return altS.y(d[1]); });
svg.append('path')
  .attr('d', altLine(meanDays.map(function(d, i){ return [d, meanAlt[i]]; })))
  .attr('fill', 'none').attr('stroke', red).attr('stroke-width', 1.8);
addAxes(altBox, altS.x, altS.y, wideTickDays, altTickY, wideFormat, fmtInt, true);
addText('Balloon Altitude vs. Time', 435.8, 801, 16.67);
addText('UTC date', 435.8, 1176.5, 13.7);
addYLabel(21, 962, 'Altitude (m AMSL)');

// ---- histogram
var histS = panelScales(histBox, [-100,100], [0,39.97]);
var histTickX = [-100,-75,-50,-25,0,25,50,75,100];
var histTickY = [0,5,10,15,20,25,30,35];
addGrid(histBox, histS.x, histS.y, histTickX, histTickY);

function drawBars(counts, color) {
  svg.append('g').selectAll('rect').data(binStarts).enter().append('rect')
    .filter(function(d, i){ return counts[i] > 0; })
    .attr('x', function(d){ return histS.x(d); })
    .attr('width', function(d){ return histS.x(d + 5) - histS.x(d); })
    .attr('y', function(d){ return histS.y(counts[binStarts.indexOf(d)]); })
    .attr('height', function(d){ return histS.y(0) - histS.y(counts[binStarts.indexOf(d)]); })
    .attr('fill', color).attr('stroke', '#000').attr('stroke-width', 1.1)
    .attr('opacity', 0.65);
}
drawBars(uCounts, '#1f77b4');
drawBars(vCounts, '#ff7f0e');

addAxes(histBox, histS.x, histS.y, histTickX, histTickY, fmtInt, fmtInt, false);
addText('U and V Wind Components', 1214.7, 801, 16.67);
svg.append('text').attr('x', 1214.7).attr('y', 1159).attr('text-anchor', 'middle')
  .style('font-size', '13.6px')
  .call(function(t) {
    t.append('tspan').text('Wind speed (m s');
    t.append('tspan').text('\u22121').attr('dy', -5).style('font-size', '9.7px');
    t.append('tspan').text(')').attr('dy', 5);
  });
addYLabel(827, 962, 'Frequency');

addLegendBox(1442.7, 814.5, 118.5, 34);
svg.append('rect').attr('x', 1446.3).attr('y', 819.5).attr('width', 22.5).attr('height', 7.5)
  .attr('fill', '#1f77b4').attr('stroke', '#000').attr('stroke-width', 1.1).attr('opacity', 0.65);
svg.append('rect').attr('x', 1446.3).attr('y', 834.5).attr('width', 22.5).attr('height', 7.5)
  .attr('fill', '#ff7f0e').attr('stroke', '#000').attr('stroke-width', 1.1).attr('opacity', 0.65);
addText('U (zonal)', 1477, 828, 11.1, 'start');
addText('V (meridional)', 1477, 843, 11.1, 'start');
</script>
</body>
</html>
